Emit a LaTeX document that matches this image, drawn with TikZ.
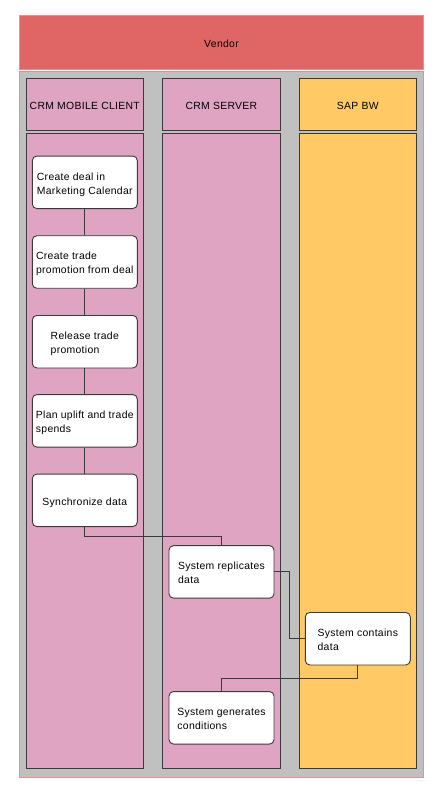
\documentclass[tikz,border=0pt]{standalone}
\usepackage{fontspec}
\setmainfont{Liberation Sans}[LetterSpace=3]
\definecolor{vendred}{HTML}{E06666}
\definecolor{vendedge}{HTML}{EC8C8C}
\definecolor{poolgray}{HTML}{C0C0C0}
\definecolor{lanepink}{HTML}{DFA4C2}
\definecolor{laneorange}{HTML}{FFC966}
\definecolor{edgegray}{HTML}{3A3A3A}
\tikzset{
  lanebox/.style={draw=edgegray, line width=1pt},
  taskbox/.style={draw=edgegray, fill=white, rounded corners=4.5pt, line width=0.9pt,
    minimum width=105pt, minimum height=52.5pt, inner sep=0pt},
  tasktext/.style={inner sep=0pt, align=left, text depth=0pt, yshift=-1.1pt,
    font=\fontsize{10.4}{13.8}\selectfont},
  flow/.style={draw=edgegray, line width=0.9pt},
  lbl/.style={font=\fontsize{10.4}{13}\selectfont, inner sep=0pt}
}
\begin{document}
\begin{tikzpicture}[x=1pt, y=-1pt]
\useasboundingbox (0,0) rectangle (437,795);
\fill[white] (0,0) rectangle (437,795);
% vendor
\draw[fill=vendred, draw=vendedge, line width=0.8pt] (19.5,15) rectangle (423.5,69.5);
\node[lbl] (vendor) at (221.5,44.2) {Vendor};
% pool
\draw[fill=poolgray, draw=vendedge, line width=0.8pt] (19.5,71.5) rectangle (423.5,777);
% lane headers
\draw[lanebox, fill=lanepink] (26,78) rectangle (143.7,130.3);
\draw[lanebox, fill=lanepink] (162.5,78) rectangle (280.3,130.3);
\draw[lanebox, fill=laneorange] (299,78) rectangle (416.7,130.3);
\node[lbl] (h1) at (84.8,106) {CRM MOBILE CLIENT};
\node[lbl] (h2) at (221.4,106) {CRM SERVER};
\node[lbl] (h3) at (357.8,106) {SAP BW};
% lane bodies
\draw[lanebox, fill=lanepink] (26,133.3) rectangle (143.7,768);
\draw[lanebox, fill=lanepink] (162.5,133.3) rectangle (280.3,768);
\draw[lanebox, fill=laneorange] (299,133.3) rectangle (416.7,768);
% tasks
\node[taskbox] (b1) at (84.8,182.3) {};
\node[taskbox] (b2) at (84.8,262) {};
\node[taskbox] (b3) at (84.8,341.7) {};
\node[taskbox] (b4) at (84.8,420.8) {};
\node[taskbox] (b5) at (84.8,500.3) {};
\node[taskbox] (r) at (221.5,571.9) {};
\node[taskbox] (c) at (357.8,638.7) {};
\node[taskbox] (g) at (221.5,717.8) {};
\node[tasktext] (t1) at (b1.center) {Create deal in\\Marketing Calendar};
\node[tasktext] (t2) at (b2.center) {Create trade\\promotion from deal};
\node[tasktext] (t3) at (b3.center) {Release trade\\promotion};
\node[tasktext] (t4) at (b4.center) {Plan uplift and trade\\spends};
\node[tasktext] (t5) at (b5.center) {Synchronize data};
\node[tasktext] (tr) at (r.center) {System replicates\\data};
\node[tasktext] (tc) at (c.center) {System contains\\data};
\node[tasktext] (tg) at (g.center) {System generates\\conditions};
% connectors
\draw[flow] (b1) -- (b2);
\draw[flow] (b2) -- (b3);
\draw[flow] (b3) -- (b4);
\draw[flow] (b4) -- (b5);
\draw[flow] (b5.south) -- ++(0,9.5) -| (r.north);
\draw[flow] (r.east) -- ++(15.3,0) |- (c.west);
\draw[flow] (c.south) -- ++(0,13) -| (g.north);
\end{tikzpicture}
\end{document}
